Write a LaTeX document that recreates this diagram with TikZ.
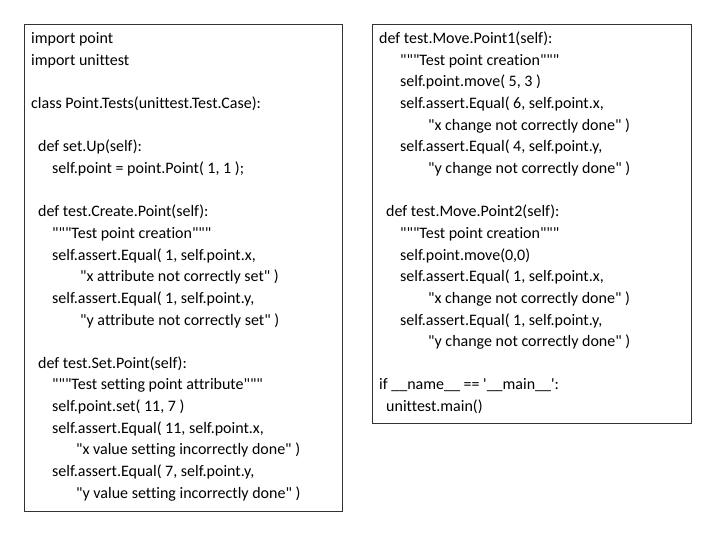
\documentclass[tikz,border=0pt]{standalone}
\usepackage{fontspec}
\setmainfont{Carlito}[Ligatures={TeXOff,CommonOff}]
\begin{document}
\begin{tikzpicture}[
  x=1pt,y=-1pt,
  codebox/.style={draw,thin,black!80},
  codeline/.style={anchor=west,inner sep=0pt,yshift=-1pt,font=\fontsize{16}{19}\selectfont}]
  \useasboundingbox (0,0) rectangle (720,540);
% the two boxes
  \node[codebox,minimum width=318,minimum height=487,anchor=north west] (LeftBox) at (24,24) {};
  \node[codebox,minimum width=319,minimum height=399,anchor=north west] (RightBox) at (372,24) {};
% left column
  \foreach \x/\y/\t [count=\i] in {
    31/38/{import point},
    31/60/{import unittest},
    31/103/{class Point.Tests(unittest.Test.Case):},
    38/146/{def set.Up(self):},
    52/168/{self.point = point.Point( 1, 1 );},
    38/211/{def test.Create.Point(self):},
    52/233/{"""Test point creation"""},
    52/255/{self.assert.Equal( 1, self.point.x,},
    80/276/{"x attribute not correctly set" )},
    52/298/{self.assert.Equal( 1, self.point.y,},
    80/320/{"y attribute not correctly set" )},
    38/363/{def test.Set.Point(self):},
    52/384/{"""Test setting point attribute"""},
    52/406/{self.point.set( 11, 7 )},
    52/428/{self.assert.Equal( 11, self.point.x,},
    76/449/{"x value setting incorrectly done" )},
    52/471/{self.assert.Equal( 7, self.point.y,},
    76/493/{"y value setting incorrectly done" )}}
    \node[codeline] (left\i) at (\x,\y) {\t};
% right column
  \foreach \x/\y/\t [count=\i] in {
    379/38/{def test.Move.Point1(self):},
    400/60/{"""Test point creation"""},
    400/81/{self.point.move( 5, 3 )},
    400/103/{self.assert.Equal( 6, self.point.x,},
    428/125/{"x change not correctly done" )},
    400/146/{self.assert.Equal( 4, self.point.y,},
    428/168/{"y change not correctly done" )},
    386/211/{def test.Move.Point2(self):},
    400/233/{"""Test point creation"""},
    400/255/{self.point.move(0,0)},
    400/276/{self.assert.Equal( 1, self.point.x,},
    428/298/{"x change not correctly done" )},
    400/320/{self.assert.Equal( 1, self.point.y,},
    428/341/{"y change not correctly done" )},
    379/384/{if \_\_name\_\_ == '\_\_main\_\_':},
    386/406/{unittest.main()}}
    \node[codeline] (right\i) at (\x,\y) {\t};
\end{tikzpicture}
\end{document}
